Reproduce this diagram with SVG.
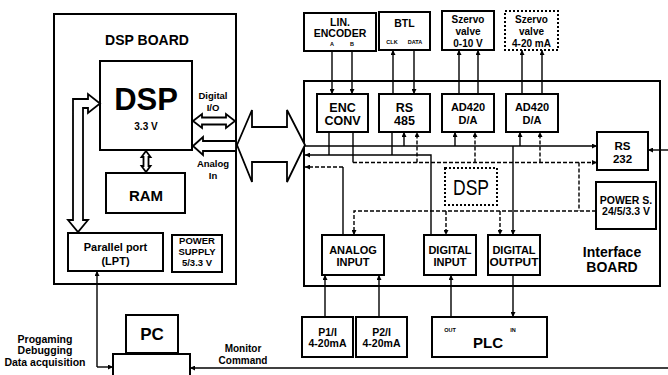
<svg xmlns="http://www.w3.org/2000/svg" width="668" height="375" viewBox="0 0 668 375">
<defs>
<marker id="ah" viewBox="0 0 10 10" refX="10" refY="5" markerWidth="5" markerHeight="5" markerUnits="userSpaceOnUse" orient="auto-start-reverse">
<path d="M0,0 L10,5 L0,10 z" fill="#000"/>
</marker>
<style>
.box{fill:#fff;stroke:#000;stroke-width:2}
.dot{fill:#fff;stroke:#000;stroke-width:2;stroke-dasharray:2 2}
.hol{fill:#fff;stroke:#000;stroke-width:1.8;stroke-linejoin:miter}
.ln{fill:none;stroke:#000;stroke-width:1.4}
.da{fill:none;stroke:#000;stroke-width:1.4;stroke-dasharray:4 2}
.ar{marker-end:url(#ah)}
text{font-family:"Liberation Sans",Arial,sans-serif;font-weight:bold;text-anchor:middle;fill:#000}
.s10{font-size:10px}
.s11{font-size:11px}
.t{font-size:5.5px}
</style>
</defs>
<rect width="668" height="375" fill="#fff"/>

<g id="dsp-board">
<rect class="box" x="54" y="14" width="182" height="270"/>
<text x="147" y="45" style="font-size:14px">DSP BOARD</text>
</g>
<g id="dsp">
<rect class="box" x="100" y="61" width="92" height="89"/>
<text x="146" y="110" style="font-size:31px">DSP</text>
<text x="146" y="130" class="s10">3.3 V</text>
</g>
<g id="ram">
<rect class="box" x="106" y="173" width="79" height="40"/>
<text x="146" y="200.5" style="font-size:15px">RAM</text>
</g>
<g id="lpt">
<rect class="box" x="68" y="233" width="95" height="38"/>
<text x="115.5" y="251" style="font-size:11px">Parallel port</text>
<text x="115.5" y="265" style="font-size:11px">(LPT)</text>
</g>
<g id="psu">
<rect class="box" x="172" y="235" width="50" height="37"/>
<text x="197" y="244" style="font-size:9.5px">POWER</text>
<text x="197" y="255" style="font-size:9.5px">SUPPLY</text>
<text x="197" y="266" style="font-size:9.5px">5/3.3 V</text>
</g>
<g id="dsp-labels">
<text x="213" y="98.5" style="font-size:9.5px">Digital</text>
<text x="213" y="110.5" style="font-size:9.5px">I/O</text>
<text x="213" y="166.5" style="font-size:9.5px">Analog</text>
<text x="213" y="178.5" style="font-size:9.5px">In</text>
</g>

<g id="iface-board">
<rect class="box" x="304" y="81" width="356" height="205"/>
<text x="612" y="257" style="font-size:14px">Interface</text>
<text x="612" y="272" style="font-size:14px">BOARD</text>
</g>
<g id="lin-encoder">
<rect class="box" x="304" y="13" width="72" height="38"/>
<text x="340" y="25.5" style="font-size:10.5px">LIN.</text>
<text x="340" y="36.5" style="font-size:10.5px">ENCODER</text>
<text x="332" y="46" class="t">A</text>
<text x="352" y="46" class="t">B</text>
</g>
<g id="btl">
<rect class="box" x="379" y="12" width="51" height="38"/>
<text x="404.5" y="27" style="font-size:10.5px">BTL</text>
<text x="392" y="44" class="t">CLK</text>
<text x="415" y="44" class="t">DATA</text>
</g>
<g id="szervo1">
<rect class="box" x="442" y="11" width="52" height="39"/>
<text x="468" y="22.5" class="s10">Szervo</text>
<text x="468" y="34.5" class="s10">valve</text>
<text x="468" y="46.5" class="s10">0-10 V</text>
</g>
<g id="szervo2">
<rect class="dot" x="505" y="11" width="53" height="39"/>
<text x="531.5" y="22.5" class="s10">Szervo</text>
<text x="531.5" y="34.5" class="s10">valve</text>
<text x="531.5" y="46.5" class="s10">4-20 mA</text>
</g>
<g id="enc-conv">
<rect class="box" x="317" y="94" width="51" height="38"/>
<text x="342.5" y="111.5" style="font-size:12.5px">ENC</text>
<text x="342.5" y="124.5" style="font-size:12.5px">CONV</text>
</g>
<g id="rs485">
<rect class="box" x="379" y="94" width="51" height="38"/>
<text x="404.5" y="111.5" style="font-size:12.5px">RS</text>
<text x="404.5" y="124.5" style="font-size:12.5px">485</text>
</g>
<g id="ad420a">
<rect class="box" x="442" y="94" width="52" height="38"/>
<text x="468" y="111" class="s11">AD420</text>
<text x="468" y="123.5" class="s11">D/A</text>
</g>
<g id="ad420b">
<rect class="box" x="506" y="94" width="52" height="38"/>
<text x="532" y="111" class="s11">AD420</text>
<text x="532" y="123.5" class="s11">D/A</text>
</g>
<g id="rs232">
<rect class="box" x="597" y="132" width="51" height="38"/>
<text x="622.5" y="150" style="font-size:11.5px">RS</text>
<text x="622.5" y="163" style="font-size:11.5px">232</text>
</g>
<g id="power-s">
<rect class="box" x="596" y="182" width="60" height="47"/>
<text x="626" y="203.5" style="font-size:10.5px">POWER S.</text>
<text x="626" y="215" style="font-size:10.5px">24/5/3.3 V</text>
</g>
<g id="dsp2">
<rect class="dot" x="445" y="168" width="52" height="37"/>
<text x="471" y="195" style="font-size:22px;font-weight:normal" textLength="36" lengthAdjust="spacingAndGlyphs">DSP</text>
</g>
<g id="analog-input">
<rect class="box" x="322" y="235" width="62" height="40"/>
<text x="353" y="254" class="s11">ANALOG</text>
<text x="353" y="266" class="s11">INPUT</text>
</g>
<g id="digital-input">
<rect class="box" x="424" y="235" width="52" height="40"/>
<text x="450" y="254" class="s11">DIGITAL</text>
<text x="450" y="266" class="s11">INPUT</text>
</g>
<g id="digital-output">
<rect class="box" x="488" y="235" width="52" height="40"/>
<text x="514" y="254" class="s11">DIGITAL</text>
<text x="514" y="266" class="s11" textLength="49" lengthAdjust="spacingAndGlyphs">OUTPUT</text>
</g>
<g id="p1">
<rect class="box" x="302" y="317" width="51" height="40"/>
<text x="327.5" y="335.5" style="font-size:10.5px">P1/I</text>
<text x="327.5" y="347" style="font-size:10.5px">4-20mA</text>
</g>
<g id="p2">
<rect class="box" x="356" y="317" width="51" height="40"/>
<text x="381.5" y="335.5" style="font-size:10.5px">P2/I</text>
<text x="381.5" y="347" style="font-size:10.5px">4-20mA</text>
</g>
<g id="plc">
<rect class="box" x="432" y="317" width="115" height="40"/>
<text x="450" y="332" class="t">OUT</text>
<text x="513" y="332" class="t">IN</text>
<text x="488" y="347.5" style="font-size:15px">PLC</text>
</g>
<g id="pc">
<rect class="box" x="126" y="315" width="52" height="38"/>
<rect class="box" x="113" y="354" width="77" height="30"/>
<text x="152" y="340" style="font-size:17px">PC</text>
</g>
<g id="side-labels">
<text x="45" y="343" style="font-size:10.5px">Progaming</text>
<text x="45" y="354" style="font-size:10.5px">Debugging</text>
<text x="45" y="365.5" style="font-size:10.5px">Data acquisition</text>
<text x="243" y="351.5" style="font-size:10px">Monitor</text>
<text x="243" y="363.5" style="font-size:10px">Command</text>
</g>

<g id="connectors">
<polygon class="hol" points="73,220 73,99 88,99 88,94 100,103.5 88,113 88,108 83,108 83,220 88,220 78,232 68,220"/>
<polygon class="hol" points="146,151 150.5,157 148.5,157 148.5,166 150.5,166 146,172 141.5,166 143.5,166 143.5,157 141.5,157"/>
<polygon class="hol" points="193,121 202,114 202,117.5 226,117.5 226,114 235,121 226,128 226,124.5 202,124.5 202,128"/>
<polygon class="hol" points="193,146 203,137 203,141 236,141 236,151 203,151 203,155"/>
<polygon class="hol" points="237,145 252,110 252,127 287,127 287,110 305,145 287,182 287,162 252,162 252,182"/>

<path class="ln ar" d="M332,51 V94"/>
<path class="ln ar" d="M352,51 V94"/>
<path class="ln ar" d="M393,94 V50"/>
<path class="ln ar" d="M414,50 V94"/>
<path class="ln ar" d="M459,94 V50"/>
<path class="ln ar" d="M478,94 V50"/>
<path class="ln ar" d="M522,94 V50"/>
<path class="ln ar" d="M542,94 V50"/>

<path class="ln ar" d="M304,146 H597"/>
<path class="ln ar" d="M404,146 V132"/>
<path class="ln ar" d="M455,146 V132"/>
<path class="ln ar" d="M520,146 V132"/>
<path class="ln ar" d="M513,146 V235"/>
<path class="ln ar" d="M431,235 V155 H305"/>
<path class="ln" d="M329,132 V155"/>
<path class="ln" d="M392,132 V155"/>
<path class="ln" d="M353,132 V162.5"/>
<path class="da ar" d="M353,162.5 H597"/>
<path class="da ar" d="M417,162.5 V132"/>
<path class="da ar" d="M475,162.5 V132"/>
<path class="da ar" d="M540,162.5 V132"/>
<path class="da" d="M579,162.5 V211"/>
<path class="ln" d="M343,235 V167"/>
<path class="da ar" d="M343,167 H305"/>
<path class="da ar" d="M596,211 H354 V235"/>
<path class="da ar" d="M446,211 V235"/>
<path class="da ar" d="M500,211 V235"/>
<path class="ln ar" d="M668,150 H648"/>
<path class="ln ar" d="M325,317 V275"/>
<path class="ln ar" d="M379,317 V275"/>
<path class="ln ar" d="M451,317 V275"/>
<path class="ln ar" d="M513,275 V317"/>
<path class="ln ar" d="M97,367 V271"/>
<path class="ln ar" d="M97,367 H113"/>
<path class="ln ar" d="M668,368 H190"/>
</g>
</svg>
